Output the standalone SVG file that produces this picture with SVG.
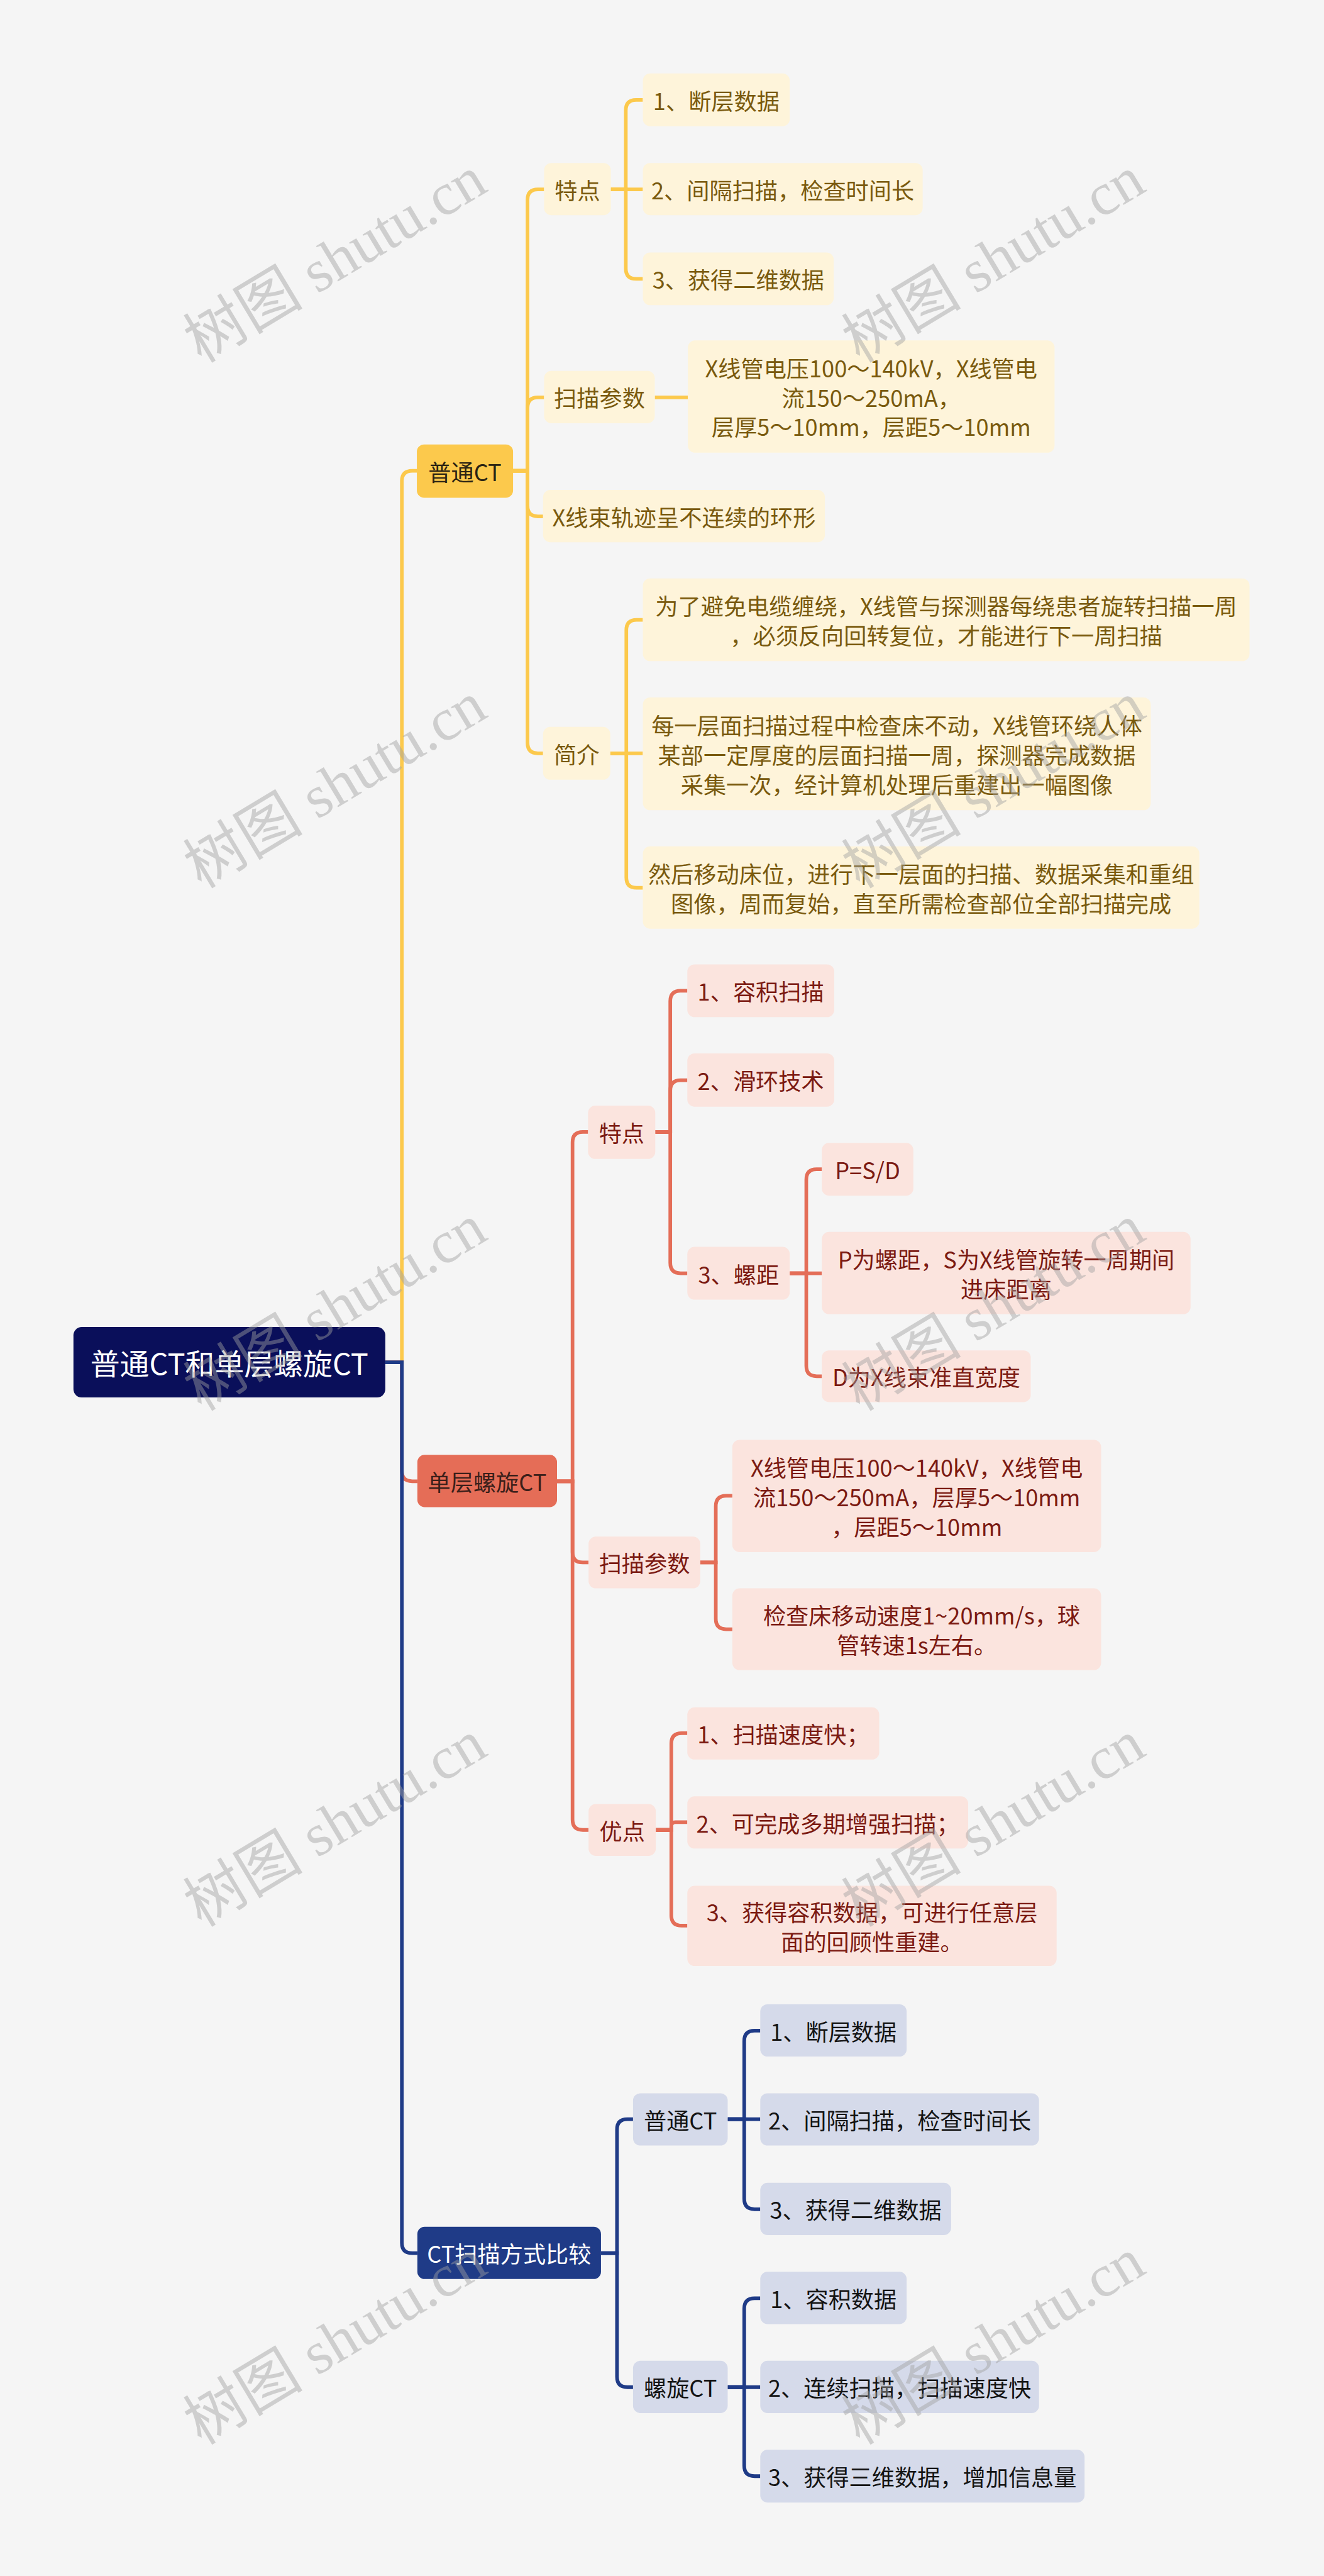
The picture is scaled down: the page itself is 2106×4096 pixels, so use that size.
<svg xmlns="http://www.w3.org/2000/svg" width="2106" height="4096" viewBox="0 0 2106 4096">
<style>
text{font-family:"Noto Sans CJK SC","Noto Sans",sans-serif;font-size:44px;text-anchor:middle;dominant-baseline:central}
.root rect{fill:#0a0f5a}.root text{fill:#fff;font-size:57px}
.yl1 rect{fill:#fcc94c}.yl1 text{fill:#2b2313}
.y rect{fill:#fef4da}.y text{fill:#7a5a0e}
.rl1 rect{fill:#e56d57}.rl1 text{fill:#3b1f1a}
.r rect{fill:#fbe4de}.r text{fill:#7b1a12}
.bl1 rect{fill:#1f3b87}.bl1 text{fill:#fff}
.b rect{fill:#d5daea}.b text{fill:#141414}
.cy path{stroke:#fcc94c}.cr path{stroke:#e46e58}.cb path{stroke:#1f3b87}
#connectors path{fill:none;stroke-width:7}
.wm text{font-family:"Liberation Serif","Noto Sans CJK SC",serif;font-size:116px;fill:#a0a0a0;fill-opacity:0.45}
</style>
<rect x="0" y="0" width="2106" height="4096" fill="#f5f5f5"/>
<g transform="scale(0.82266)">
<g id="connectors">
<g class="cy">
<path d="M745,2633 H777 V930 Q777,910 797,910 H806"/>
<path d="M992,910 H1020 V386 Q1020,366 1040,366 H1052"/>
<path d="M992,910 H1020 V788 Q1020,768 1040,768 H1052"/>
<path d="M992,910 H1020 V978 Q1020,998 1040,998 H1050"/>
<path d="M992,910 H1020 V1436 Q1020,1456 1040,1456 H1050"/>
<path d="M1181,366 H1210 V213 Q1210,193 1230,193 H1243"/>
<path d="M1181,366 H1243"/>
<path d="M1181,366 H1210 V519 Q1210,539 1230,539 H1243"/>
<path d="M1266,768 H1330"/>
<path d="M1180,1456 H1211 V1218 Q1211,1198 1231,1198 H1243"/>
<path d="M1180,1456 H1243"/>
<path d="M1180,1456 H1211 V1696 Q1211,1716 1231,1716 H1243"/>
</g>
<g class="cr">
<path d="M745,2633 H777 V2843 Q777,2863 797,2863 H807"/>
<path d="M1077,2863 H1107 V2208 Q1107,2188 1127,2188 H1137"/>
<path d="M1077,2863 H1107 V3000 Q1107,3020 1127,3020 H1138"/>
<path d="M1077,2863 H1107 V3517 Q1107,3537 1127,3537 H1138"/>
<path d="M1267,2188 H1296 V1935 Q1296,1915 1316,1915 H1329"/>
<path d="M1267,2188 H1296 V2108 Q1296,2088 1316,2088 H1329"/>
<path d="M1267,2188 H1296 V2441 Q1296,2461 1316,2461 H1329"/>
<path d="M1527,2461 H1559 V2280 Q1559,2260 1579,2260 H1589"/>
<path d="M1527,2461 H1589"/>
<path d="M1527,2461 H1559 V2640 Q1559,2660 1579,2660 H1589"/>
<path d="M1354,3020 H1384 V2911 Q1384,2891 1404,2891 H1416"/>
<path d="M1354,3020 H1384 V3129 Q1384,3149 1404,3149 H1416"/>
<path d="M1268,3537 H1298 V3370 Q1298,3350 1318,3350 H1329"/>
<path d="M1268,3537 H1298 V3530 Q1298,3522 1306,3522 H1329"/>
<path d="M1268,3537 H1298 V3702 Q1298,3722 1318,3722 H1329"/>
</g>
<g class="cb">
<path d="M745,2633 H777 V4335 Q777,4355 797,4355 H807"/>
<path d="M1162,4355 H1193 V4116 Q1193,4096 1213,4096 H1224"/>
<path d="M1162,4355 H1193 V4594 Q1193,4614 1213,4614 H1224"/>
<path d="M1407,4096 H1439 V3945 Q1439,3925 1459,3925 H1470"/>
<path d="M1407,4096 H1470"/>
<path d="M1407,4096 H1439 V4250 Q1439,4270 1459,4270 H1470"/>
<path d="M1407,4614 H1439 V4462 Q1439,4442 1459,4442 H1470"/>
<path d="M1407,4614 H1470"/>
<path d="M1407,4614 H1439 V4766 Q1439,4786 1459,4786 H1470"/>
</g>
</g>

<g id="root" class="root"><rect x="142" y="2565" width="603" height="136" rx="16"/><text x="443.5" y="2633">普通CT和单层螺旋CT</text></g>

<g id="n-putong" class="yl1"><rect x="806" y="859" width="186" height="103" rx="14"/><text x="899" y="910.5">普通CT</text></g>
<g id="n-y-tedian" class="y"><rect x="1052" y="315" width="129" height="101" rx="14"/><text x="1116.5" y="365.5">特点</text></g>
<g id="n-y-t1" class="y"><rect x="1243" y="142" width="284" height="102" rx="14"/><text x="1385" y="193">1、断层数据</text></g>
<g id="n-y-t2" class="y"><rect x="1243" y="315" width="541" height="101" rx="14"/><text x="1513.5" y="365.5">2、间隔扫描，检查时间长</text></g>
<g id="n-y-t3" class="y"><rect x="1243" y="488" width="369" height="102" rx="14"/><text x="1427.5" y="539">3、获得二维数据</text></g>
<g id="n-y-scan" class="y"><rect x="1052" y="717" width="214" height="101" rx="14"/><text x="1159" y="767.5">扫描参数</text></g>
<g id="n-y-param" class="y"><rect x="1330" y="658" width="709" height="217" rx="14"/><text x="1684.5"><tspan x="1684.5" y="709.5">X线管电压100～140kV，X线管电</tspan><tspan x="1684.5" y="766.5">流150～250mA，</tspan><tspan x="1684.5" y="823.5">层厚5～10mm，层距5～10mm</tspan></text></g>
<g id="n-y-xray" class="y"><rect x="1050" y="947" width="545" height="101" rx="14"/><text x="1322.5" y="997.5">X线束轨迹呈不连续的环形</text></g>
<g id="n-y-intro" class="y"><rect x="1050" y="1405" width="130" height="102" rx="14"/><text x="1115" y="1456">简介</text></g>
<g id="n-y-i1" class="y"><rect x="1243" y="1118" width="1173" height="160" rx="14"/><text x="1829.5"><tspan x="1829.5" y="1169.5">为了避免电缆缠绕，X线管与探测器每绕患者旋转扫描一周</tspan><tspan x="1829.5" y="1226.5">，必须反向回转复位，才能进行下一周扫描</tspan></text></g>
<g id="n-y-i2" class="y"><rect x="1243" y="1348" width="982" height="218" rx="14"/><text x="1734"><tspan x="1734" y="1400">每一层面扫描过程中检查床不动，X线管环绕人体</tspan><tspan x="1734" y="1457">某部一定厚度的层面扫描一周，探测器完成数据</tspan><tspan x="1734" y="1514">采集一次，经计算机处理后重建出一幅图像</tspan></text></g>
<g id="n-y-i3" class="y"><rect x="1243" y="1636" width="1076" height="159" rx="14"/><text x="1781"><tspan x="1781" y="1687">然后移动床位，进行下一层面的扫描、数据采集和重组</tspan><tspan x="1781" y="1744">图像，周而复始，直至所需检查部位全部扫描完成</tspan></text></g>

<g id="n-spiral" class="rl1"><rect x="807" y="2812" width="270" height="101" rx="14"/><text x="942" y="2862.5">单层螺旋CT</text></g>
<g id="n-r-tedian" class="r"><rect x="1137" y="2137" width="130" height="103" rx="14"/><text x="1202" y="2188.5">特点</text></g>
<g id="n-r-t1" class="r"><rect x="1329" y="1864" width="284" height="102" rx="14"/><text x="1471" y="1915">1、容积扫描</text></g>
<g id="n-r-t2" class="r"><rect x="1329" y="2036" width="284" height="103" rx="14"/><text x="1471" y="2087.5">2、滑环技术</text></g>
<g id="n-r-t3" class="r"><rect x="1329" y="2410" width="198" height="102" rx="14"/><text x="1428" y="2461">3、螺距</text></g>
<g id="n-r-p1" class="r"><rect x="1589" y="2209" width="177" height="102" rx="14"/><text x="1677.5" y="2260">P=S/D</text></g>
<g id="n-r-p2" class="r"><rect x="1589" y="2381" width="713" height="159" rx="14"/><text x="1945.5"><tspan x="1945.5" y="2432">P为螺距，S为X线管旋转一周期间</tspan><tspan x="1945.5" y="2489">进床距离</tspan></text></g>
<g id="n-r-p3" class="r"><rect x="1589" y="2610" width="404" height="100" rx="14"/><text x="1791" y="2660">D为X线束准直宽度</text></g>
<g id="n-r-scan" class="r"><rect x="1138" y="2970" width="216" height="100" rx="14"/><text x="1246" y="3020">扫描参数</text></g>
<g id="n-r-s1" class="r"><rect x="1416" y="2783" width="713" height="217" rx="14"/><text x="1772.5"><tspan x="1772.5" y="2834.5">X线管电压100～140kV，X线管电</tspan><tspan x="1772.5" y="2891.5">流150～250mA，层厚5～10mm</tspan><tspan x="1772.5" y="2948.5">，层距5～10mm</tspan></text></g>
<g id="n-r-s2" class="r"><rect x="1416" y="3070" width="713" height="158" rx="14"/><text x="1772.5"><tspan x="1782" y="3120.5">检查床移动速度1~20mm/s，球</tspan><tspan x="1772.5" y="3177.5">管转速1s左右。</tspan></text></g>
<g id="n-r-adv" class="r"><rect x="1138" y="3487" width="130" height="100" rx="14"/><text x="1203" y="3537">优点</text></g>
<g id="n-r-a1" class="r"><rect x="1329" y="3300" width="371" height="101" rx="14"/><text x="1514.5" y="3350.5">1、扫描速度快；</text></g>
<g id="n-r-a2" class="r"><rect x="1329" y="3472" width="543" height="101" rx="14"/><text x="1600.5" y="3522.5">2、可完成多期增强扫描；</text></g>
<g id="n-r-a3" class="r"><rect x="1329" y="3645" width="714" height="155" rx="14"/><text x="1686"><tspan x="1686" y="3694">3、获得容积数据，可进行任意层</tspan><tspan x="1686" y="3751">面的回顾性重建。</tspan></text></g>

<g id="n-compare" class="bl1"><rect x="807" y="4304" width="355" height="101" rx="14"/><text x="984.5" y="4354.5">CT扫描方式比较</text></g>
<g id="n-b-putong" class="b"><rect x="1224" y="4046" width="183" height="101" rx="14"/><text x="1315.5" y="4096.5">普通CT</text></g>
<g id="n-b-p1" class="b"><rect x="1470" y="3874" width="283" height="101" rx="14"/><text x="1611.5" y="3924.5">1、断层数据</text></g>
<g id="n-b-p2" class="b"><rect x="1470" y="4046" width="539" height="101" rx="14"/><text x="1739.5" y="4096.5">2、间隔扫描，检查时间长</text></g>
<g id="n-b-p3" class="b"><rect x="1470" y="4219" width="369" height="101" rx="14"/><text x="1654.5" y="4269.5">3、获得二维数据</text></g>
<g id="n-b-spiral" class="b"><rect x="1224" y="4563" width="183" height="101" rx="14"/><text x="1315.5" y="4613.5">螺旋CT</text></g>
<g id="n-b-s1" class="b"><rect x="1470" y="4391" width="283" height="101" rx="14"/><text x="1611.5" y="4441.5">1、容积数据</text></g>
<g id="n-b-s2" class="b"><rect x="1470" y="4563" width="539" height="101" rx="14"/><text x="1739.5" y="4613.5">2、连续扫描，扫描速度快</text></g>
<g id="n-b-s3" class="b"><rect x="1470" y="4735" width="627" height="102" rx="14"/><text x="1783.5" y="4786">3、获得三维数据，增加信息量</text></g>

<g class="wm">
<text transform="translate(648,502) rotate(-31)">树图 shutu.cn</text>
<text transform="translate(1921,502) rotate(-31)">树图 shutu.cn</text>
<text transform="translate(648,1518) rotate(-31)">树图 shutu.cn</text>
<text transform="translate(1921,1518) rotate(-31)">树图 shutu.cn</text>
<text transform="translate(648,2528) rotate(-31)">树图 shutu.cn</text>
<text transform="translate(1921,2528) rotate(-31)">树图 shutu.cn</text>
<text transform="translate(648,3525) rotate(-31)">树图 shutu.cn</text>
<text transform="translate(1921,3525) rotate(-31)">树图 shutu.cn</text>
<text transform="translate(648,4526) rotate(-31)">树图 shutu.cn</text>
<text transform="translate(1921,4526) rotate(-31)">树图 shutu.cn</text>
</g>
</g>
</svg>
